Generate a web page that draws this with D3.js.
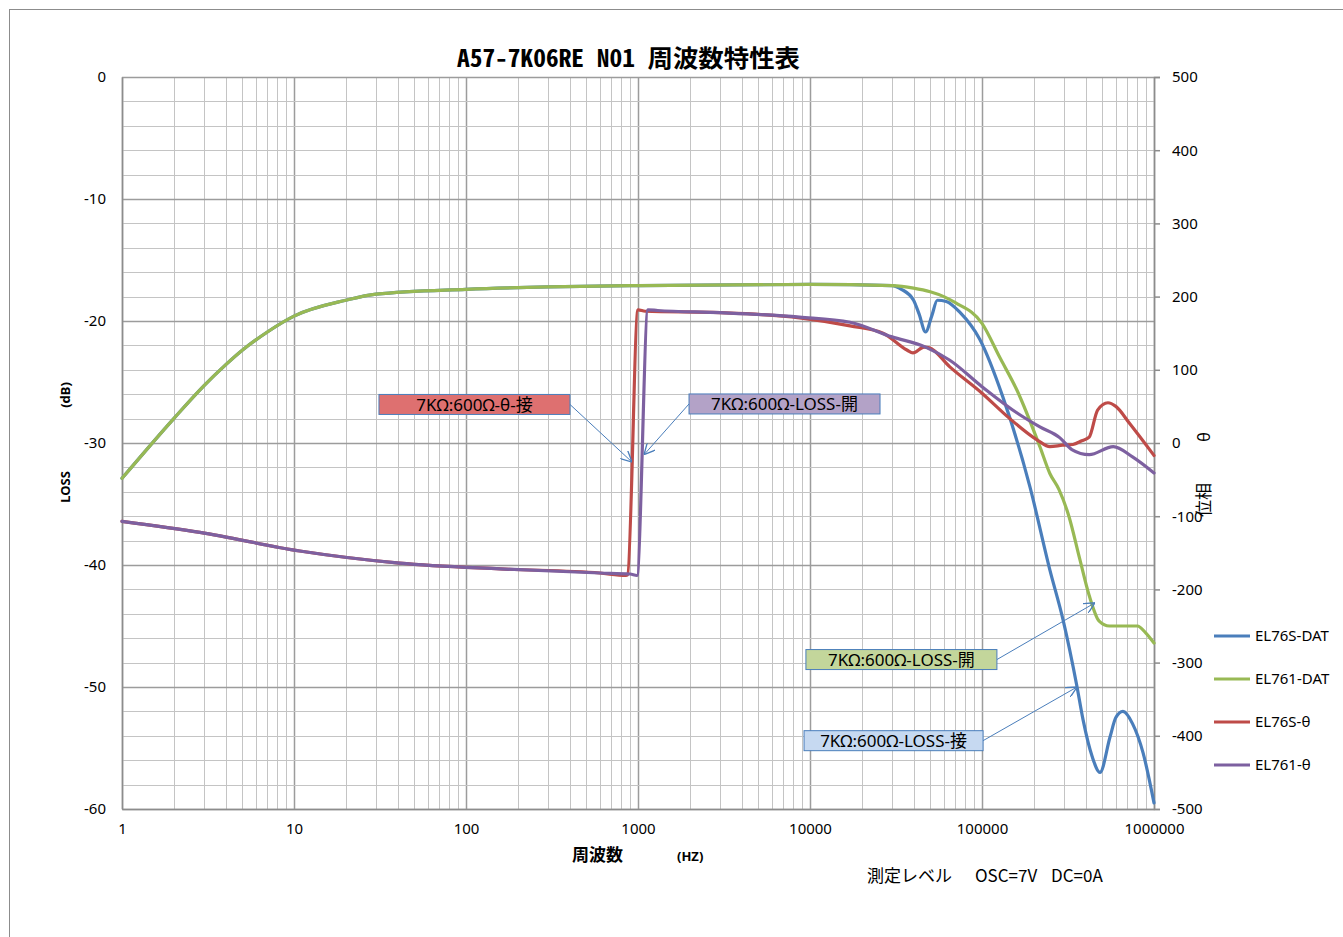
<!DOCTYPE html>
<html>
<head>
<meta charset="utf-8">
<script src="https://cdn.jsdelivr.net/npm/d3@7"></script>
<style>
  body { margin: 0; background: #fff; }
  text { font-family: "Noto Sans", "Noto Sans CJK JP", sans-serif; fill: #000; }
</style>
</head>
<body>
<svg id="chart" width="1343" height="937"></svg>
<script>
// ---- data ----
let freqTicks = [1, 10, 100, 1000, 10000, 100000, 1000000];
let lossTicks = [0, -10, -20, -30, -40, -50, -60];
let phaseTicks = [500, 400, 300, 200, 100, 0, -100, -200, -300, -400, -500];

let seriesNames = ["EL76S-DAT", "EL761-DAT", "EL76S-θ", "EL761-θ"];

// LOSS (dB) vs frequency
let el761Dat = [
  [1, -32.9], [2, -28.0], [3, -25.3], [4, -23.6], [5, -22.4], [7, -20.9], [10, -19.6],
  [20, -18.3], [30, -17.8], [100, -17.4], [300, -17.2], [1000, -17.1], [10000, -17.0],
  [30000, -17.1], [40000, -17.3], [50000, -17.6], [60000, -18.0], [70000, -18.5],
  [100000, -20.2], [127000, -23.0], [160000, -25.7], [217000, -30.3], [248000, -32.5],
  [280000, -33.8], [320000, -36.0], [370000, -39.5], [420000, -42.5], [480000, -44.6],
  [550000, -45.0], [700000, -45.0], [800000, -45.0], [900000, -45.6], [1000000, -46.4]
];

let el76sDat = [
  [1, -32.9], [2, -28.0], [3, -25.3], [4, -23.6], [5, -22.4], [7, -20.9], [10, -19.6],
  [20, -18.3], [30, -17.8], [100, -17.4], [300, -17.2], [1000, -17.1], [10000, -17.0],
  [30000, -17.1], [34000, -17.4], [40000, -18.3], [43000, -19.4], [47000, -20.9],
  [51000, -19.6], [55000, -18.3], [62000, -18.4], [74500, -19.3], [97000, -21.5],
  [132000, -26.2], [190000, -33.6], [248000, -40.4], [296000, -44.5], [357000, -50.0],
  [387000, -52.7], [437000, -55.7], [485000, -57.0], [555000, -54.1], [600000, -52.5],
  [660000, -52.0], [750000, -53.0], [864000, -55.4], [1000000, -59.5]
];

// phase (deg) vs frequency
let el76sTheta = [
  [1, -107], [2.84, -122], [10.8, -147.5], [41, -164], [158, -172], [600, -177.6],
  [850, -181], [870, -180], [1000, 182], [1100, 180], [3000, 178], [8700, 171],
  [17100, 160], [26600, 150], [36600, 127], [39700, 123], [46000, 131], [49500, 130],
  [65000, 104], [100000, 68], [144000, 34], [210000, 4], [248000, -5], [294000, -3],
  [338000, -2], [380000, 3], [420000, 8], [470000, 45], [540000, 55], [600000, 50],
  [720000, 27], [1000000, -17]
];

let el761Theta = [
  [1, -107], [2.84, -122], [10.8, -147.5], [41, -164], [158, -172], [600, -177.6],
  [900, -179], [986, -181], [1143, 182], [1300, 181], [3000, 178], [8700, 172],
  [17100, 165], [30000, 145], [47000, 131], [65000, 113], [100000, 77], [160000, 41],
  [217000, 22], [284000, 7], [333000, -9], [420000, -16], [580000, -5], [750000, -19],
  [1000000, -41]
];

// callouts: label, box centre and arrow tip in data units
let noteLabels = ["7KΩ:600Ω-θ-接", "7KΩ:600Ω-LOSS-開", "7KΩ:600Ω-LOSS-開", "7KΩ:600Ω-LOSS-接"];
let noteBoxAt = [[112, -26.84], [7110, -26.8], [34000, -47.75], [30600, -54.4]];
let noteTipAt = [[923, -26, "phase"], [1084, -16, "phase"], [454000, -43.1, "loss"], [357000, -50.0, "loss"]];

// ---- layout ----
let colours = ["#4A7EBB", "#98B954", "#BE4B48", "#7D60A0"];
let boxFills = ["#DE7070", "#B3A2C7", "#C3D69B", "#C6D9F1"];
let boxWidths = [191, 191, 191, 179];
let boxSide = ["right", "left", "right", "right"];

let plotLeft = 122, plotRight = 1154, plotTop = 77, plotBottom = 809;

let svg = d3.select("#chart");

let x = d3.scaleLog().domain([1, 1000000]).range([plotLeft, plotRight]);
let yLoss = d3.scaleLinear().domain([-60, 0]).range([plotBottom, plotTop]);
let yPhase = d3.scaleLinear().domain([-500, 500]).range([plotBottom, plotTop]);

// outer frame
svg.append("rect")
  .attr("x", 9.5).attr("y", 9.5)
  .attr("width", 1345).attr("height", 940)
  .attr("fill", "none").attr("stroke", "#8c8c8c");

// grid
let grid = svg.append("g");
grid.selectAll("line.v")
  .data(x.ticks())
  .join("line")
  .attr("x1", d => Math.round(x(d)) + 0.5).attr("x2", d => Math.round(x(d)) + 0.5)
  .attr("y1", plotTop).attr("y2", plotBottom)
  .attr("stroke", d => freqTicks.includes(d) ? "#9c9c9c" : "#c4c4c4")
  .attr("stroke-width", d => freqTicks.includes(d) ? 1.5 : 1);

grid.selectAll("line.h")
  .data(d3.range(-60, 1, 2))
  .join("line")
  .attr("x1", plotLeft).attr("x2", plotRight)
  .attr("y1", d => Math.round(yLoss(d)) + 0.5).attr("y2", d => Math.round(yLoss(d)) + 0.5)
  .attr("stroke", d => d % 10 === 0 ? "#9c9c9c" : "#c4c4c4")
  .attr("stroke-width", d => d % 10 === 0 ? 1.5 : 1);

// axes (plain hyphen minus like the original)
let plain = d => String(d);

let axisLeft = svg.append("g")
  .attr("transform", "translate(" + plotLeft + ",0)")
  .call(d3.axisLeft(yLoss).tickValues(lossTicks).tickFormat(plain).tickSize(0).tickPadding(16));

let axisRight = svg.append("g")
  .attr("transform", "translate(" + plotRight + ",0)")
  .call(d3.axisRight(yPhase).tickValues(phaseTicks).tickFormat(plain).tickSize(6).tickPadding(12));

let axisBottom = svg.append("g")
  .attr("transform", "translate(0," + plotBottom + ")")
  .call(d3.axisBottom(x).tickValues(freqTicks).tickFormat(plain).tickSize(0).tickPadding(14));

[axisLeft, axisRight, axisBottom].forEach(function (g) {
  g.select(".domain").attr("stroke", "#8c8c8c").attr("stroke-width", 1.5);
  g.selectAll(".tick line").attr("stroke", "#8c8c8c").attr("stroke-width", 1.5);
  g.selectAll("text")
    .style("font-family", '"Noto Sans", sans-serif')
    .style("font-size", "15px")
    .attr("fill", "#000");
});

// series
let lossLine = d3.line()
  .x(d => x(d[0])).y(d => yLoss(d[1]))
  .curve(d3.curveMonotoneX);

let phaseLine = d3.line()
  .x(d => x(d[0])).y(d => yPhase(d[1]))
  .curve(d3.curveMonotoneX);

let series = [
  { data: el76sDat, line: lossLine },
  { data: el761Dat, line: lossLine },
  { data: el76sTheta, line: phaseLine },
  { data: el761Theta, line: phaseLine }
];

svg.append("g")
  .selectAll("path")
  .data(series)
  .join("path")
  .attr("d", d => d.line(d.data))
  .attr("fill", "none")
  .attr("stroke", (d, i) => colours[i])
  .attr("stroke-width", 3.2)
  .attr("stroke-linejoin", "round")
  .attr("stroke-linecap", "round");

// arrow marker for the callouts
svg.append("defs").append("marker")
  .attr("id", "arrow")
  .attr("viewBox", "0 0 10 10")
  .attr("refX", 10).attr("refY", 5)
  .attr("markerUnits", "userSpaceOnUse")
  .attr("markerWidth", 11).attr("markerHeight", 11)
  .attr("orient", "auto")
  .append("path")
  .attr("d", "M0,0 L10,5 L0,10")
  .attr("fill", "none")
  .attr("stroke", "#4A7EBB")
  .attr("stroke-width", 1.2);

let notes = svg.append("g");
noteLabels.forEach(function (label, i) {
  let cx = x(noteBoxAt[i][0]);
  let cy = yLoss(noteBoxAt[i][1]);
  let w = boxWidths[i], h = 20;
  let tip = noteTipAt[i];
  let tx = x(tip[0]);
  let ty = tip[2] === "phase" ? yPhase(tip[1]) : yLoss(tip[1]);
  let sx = boxSide[i] === "right" ? cx + w / 2 : cx - w / 2;

  notes.append("line")
    .attr("x1", sx).attr("y1", cy)
    .attr("x2", tx).attr("y2", ty)
    .attr("stroke", "#4A7EBB")
    .attr("stroke-width", 1)
    .attr("marker-end", "url(#arrow)");

  notes.append("rect")
    .attr("x", cx - w / 2).attr("y", cy - h / 2)
    .attr("width", w).attr("height", h)
    .attr("fill", boxFills[i])
    .attr("stroke", "#4A7EBB")
    .attr("stroke-width", 1);

  notes.append("text")
    .attr("x", cx).attr("y", cy)
    .attr("dy", "0.36em")
    .attr("text-anchor", "middle")
    .style("font-size", "17px")
    .text(label);
});

// titles
svg.append("text")
  .attr("x", 628.5).attr("y", 67)
  .attr("text-anchor", "middle")
  .attr("textLength", 343)
  .attr("lengthAdjust", "spacingAndGlyphs")
  .style("font-family", '"Noto Sans Mono CJK JP", "Noto Sans CJK JP", monospace')
  .style("font-size", "24px")
  .style("font-weight", "bold")
  .text("A57-7K06RE N01 周波数特性表");

svg.append("text")
  .attr("transform", "translate(70,487) rotate(-90)")
  .attr("text-anchor", "middle")
  .style("font-size", "13px").style("font-weight", "bold")
  .text("LOSS");

svg.append("text")
  .attr("transform", "translate(70,395) rotate(-90)")
  .attr("text-anchor", "middle")
  .style("font-size", "13px").style("font-weight", "bold")
  .text("(dB)");

svg.append("text")
  .attr("transform", "translate(1210,500) rotate(-90)")
  .attr("text-anchor", "middle")
  .style("font-family", '"Noto Sans CJK JP", sans-serif')
  .style("font-size", "17px")
  .text("位相");

svg.append("text")
  .attr("transform", "translate(1210,437) rotate(-90)")
  .attr("text-anchor", "middle")
  .style("font-size", "16px")
  .text("θ");

svg.append("text")
  .attr("x", 572).attr("y", 861)
  .style("font-family", '"Noto Sans CJK JP", sans-serif')
  .style("font-size", "17px").style("font-weight", "bold")
  .text("周波数");

svg.append("text")
  .attr("x", 677).attr("y", 861)
  .style("font-size", "13px").style("font-weight", "bold")
  .text("(HZ)");

let note = svg.append("text")
  .attr("y", 882)
  .style("font-family", '"Noto Sans CJK JP", sans-serif')
  .style("font-size", "17px");
note.append("tspan").attr("x", 867).text("測定レベル");
note.append("tspan").attr("x", 975).text("OSC=7V");
note.append("tspan").attr("x", 1051).text("DC=0A");

// legend
let legend = svg.append("g")
  .selectAll("g")
  .data(seriesNames)
  .join("g")
  .attr("transform", (d, i) => "translate(1214," + (636 + i * 43) + ")");

legend.append("line")
  .attr("x1", 0).attr("x2", 36)
  .attr("stroke", (d, i) => colours[i])
  .attr("stroke-width", 3.2);

legend.append("text")
  .attr("x", 41).attr("dy", "0.35em")
  .style("font-size", "15px")
  .text(d => d);
</script>
</body>
</html>
